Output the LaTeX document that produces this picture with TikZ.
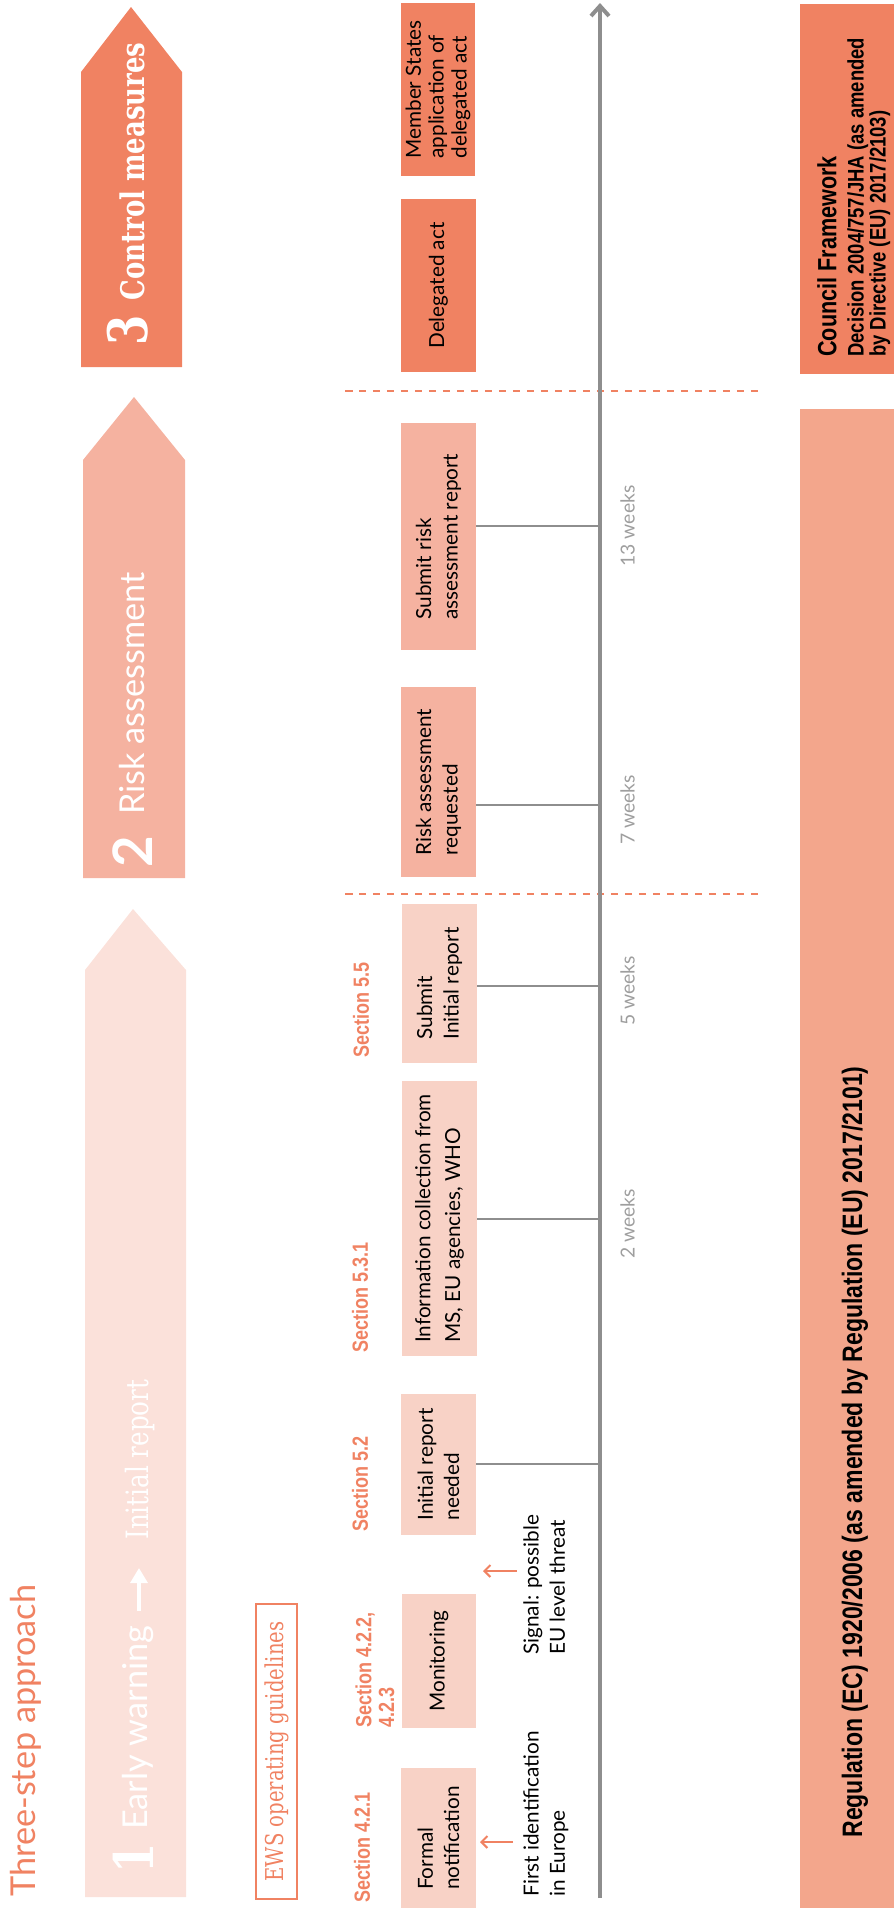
\documentclass[tikz,border=0pt]{standalone}
\usepackage{fontspec}
\setmainfont{Lato}
\newfontfamily\slabfont[FakeStretch=0.8]{DejaVu Serif}
\newfontfamily\secfont[FakeStretch=0.82]{Liberation Sans}
\newfontfamily\lawfont[FakeStretch=0.82]{Liberation Sans}
\usepackage{tikz}
\usetikzlibrary{positioning, arrows.meta}

\definecolor{ctrl}{HTML}{F08262}
\definecolor{risk}{HTML}{F5B2A0}
\definecolor{warn}{HTML}{F8D2C6}
\definecolor{warnpale}{HTML}{FBE1DA}
\definecolor{regfill}{HTML}{F3A68C}
\definecolor{axgray}{HTML}{8E8E8E}
\definecolor{wkgray}{HTML}{9E9E9E}

\begin{document}
\begin{tikzpicture}[x=0.02cm, y=-0.02cm,
    box/.style={rectangle, rotate=90, inner sep=0pt, minimum height=15mm, align=left,
      font=\fontsize{11.8}{15}\selectfont},
    vtext/.style={rotate=90, inner sep=0pt, align=left},
    sec/.style={vtext, text=ctrl, font=\secfont\bfseries\fontsize{12.5}{13}\selectfont},
    wk/.style={vtext, text=wkgray, font=\fontsize{11}{13}\selectfont, anchor=north},
    bigtxt/.style={vtext, text=white},
    tick/.style={draw=axgray, line width=0.35mm},
    sepline/.style={draw=ctrl, line width=0.5mm, dash pattern=on 1.5mm off 1.3mm},
    cue/.style={draw=ctrl, line width=0.4mm, -{Straight Barb[length=1.2mm, width=2.4mm]}}]

        \useasboundingbox (0,0) rectangle (894,1908);

        \node[vtext, anchor=west, text=ctrl, font=\fontsize{19.5}{20}\selectfont] (title) at (26,1897) {Three-step approach};

        \fill[warnpale] (85,1897) -- (85,970) -- (133,909) -- (186,970) -- (186,1897) -- cycle;
        \fill[risk] (83,878) -- (83,460) -- (134,397) -- (185,460) -- (185,878) -- cycle;
        \fill[ctrl] (81,367) -- (81,72) -- (131,7) -- (182,72) -- (182,367) -- cycle;

        \node[bigtxt, font=\slabfont\bfseries\fontsize{31}{31}\selectfont] (n1) at (133,1858) {1};
        \node[bigtxt, anchor=west, font=\fontsize{19.5}{20}\selectfont] (ew) at (138,1830) {Early warning};
        \coordinate (ewa) at (139,1611);
        \coordinate (ewb) at (139,1568);
        \draw[white, line width=0.65mm, -{Triangle[length=3mm, width=3.4mm]}] (ewa) -- (ewb);
        \node[bigtxt, anchor=west, font=\slabfont\fontsize{17.5}{18}\selectfont] (ir) at (140,1540) {Initial report};

        \node[bigtxt, font=\bfseries\fontsize{31}{31}\selectfont] (n2) at (133,852) {2};
        \node[bigtxt, anchor=west, font=\fontsize{19.5}{20}\selectfont] (ra) at (132,815) {Risk assessment};

        \node[bigtxt, font=\slabfont\bfseries\fontsize{31}{31}\selectfont] (n3) at (128,330) {3};
        \node[bigtxt, anchor=west, font=\slabfont\bfseries\fontsize{18.5}{19}\selectfont] (cm) at (132,301) {Control measures};

        \node[rotate=90, draw=ctrl, line width=0.3mm, minimum width=59mm, minimum height=8.2mm, inner sep=0pt,
          text=ctrl, font=\slabfont\fontsize{14}{14}\selectfont] (ews) at (276.5,1751.5) {EWS operating guidelines};

        \node[sec, anchor=west] (s1) at (362,1903) {Section 4.2.1};
        \node[sec, anchor=north west] (s2) at (355,1728) {Section 4.2.2,\\4.2.3};
        \node[sec, anchor=west] (s3) at (360,1532) {Section 5.2};
        \node[sec, anchor=west] (s4) at (360,1353) {Section 5.3.1};
        \node[sec, anchor=west] (s5) at (361,1058) {Section 5.5};

        \node[box, fill=warn, minimum width=28mm] (fn) at (438.5,1838) {Formal\\notification};
        \node[box, fill=warn, minimum width=26.8mm] (mon) at (439,1661) {Monitoring};
        \node[box, fill=warn, minimum width=28.2mm] (irn) at (438.5,1464.5) {Initial report\\needed};
        \node[box, fill=warn, minimum width=55mm, font=\fontsize{11.8}{17}\selectfont] (info) at (439.5,1218.5)
          {Information collection from\\MS, EU agencies, WHO};
        \node[box, fill=warn, minimum width=31.8mm] (sir) at (439.5,983.5) {Submit\\Initial report};
        \node[box, fill=risk, minimum width=38mm] (rar) at (438.5,782) {Risk assessment\\requested};
        \node[box, fill=risk, minimum width=45.4mm] (srar) at (438.5,536.5) {Submit risk\\assessment report};
        \node[box, fill=ctrl, minimum width=34.6mm] (del) at (438.5,285.5) {Delegated act};
        \node[box, fill=ctrl, minimum width=34.6mm, font=\fontsize{11.8}{13}\selectfont] (msa) at (438,89.5)
          {Member States\\application of\\delegated act};

        \node[vtext, anchor=north west, font=\fontsize{11.8}{15}\selectfont] (fi) at (523,1897) {First identification\\in Europe};
        \node[vtext, anchor=north west, font=\fontsize{11.8}{15}\selectfont] (sg) at (523,1655) {Signal: possible\\EU level threat};
        \coordinate (fia) at (513,1842);
        \coordinate (fib) at (480,1842);
        \coordinate (sga) at (517,1571);
        \coordinate (sgb) at (483,1571);
        \draw[cue] (fia) -- (fib);
        \draw[cue] (sga) -- (sgb);

        \coordinate (d1a) at (345,391);
        \coordinate (d1b) at (758,391);
        \coordinate (d2a) at (345,894);
        \coordinate (d2b) at (758,894);
        \draw[sepline] (d1a) -- (d1b);
        \draw[sepline] (d2a) -- (d2b);

        \coordinate (ax0) at (600,1898);
        \coordinate (ax1) at (600,3);
        \draw[draw=axgray, line width=0.8mm, -{Straight Barb[length=2mm, width=3.6mm]}] (ax0) -- (ax1);

        \coordinate (w0) at (600,1464);
        \coordinate (w2) at (600,1219);
        \coordinate (w5) at (600,986);
        \coordinate (w7) at (600,805);
        \coordinate (w13) at (600,526);
        \draw[tick] (w0) -- (w0 -| irn.south);
        \draw[tick] (w2) -- (w2 -| info.south);
        \draw[tick] (w5) -- (w5 -| sir.south);
        \draw[tick] (w7) -- (w7 -| rar.south);
        \draw[tick] (w13) -- (w13 -| srar.south);
        \node[wk] (l2) at ([xshift=4mm, yshift=-1mm]w2) {2 weeks};
        \node[wk] (l5) at ([xshift=4mm, yshift=-1mm]w5) {5 weeks};
        \node[wk] (l7) at ([xshift=4mm, yshift=-1mm]w7) {7 weeks};
        \node[wk] (l13) at ([xshift=4mm]w13) {13 weeks};

        \node[rotate=90, fill=ctrl, minimum width=74mm, minimum height=18.8mm, inner sep=0pt] (cfb) at (847,189) {};
        \node[vtext, anchor=north west, font=\lawfont\bfseries\fontsize{12.8}{12.5}\selectfont] (cft) at (817,357)
          {{\fontsize{15}{15}\selectfont Council Framework}\\[3pt]Decision 2004/757/JHA (as amended\\by Directive (EU) 2017/2103)};
        \node[rotate=90, fill=regfill, minimum width=299.8mm, minimum height=18.8mm, inner sep=0pt] (rgb) at (847,1158.5) {};
        \node[vtext, font=\lawfont\bfseries\fontsize{16}{18}\selectfont] (rgt) at (855,1452)
          {Regulation (EC) 1920/2006 (as amended by Regulation (EU) 2017/2101)};
\end{tikzpicture}
\end{document}
